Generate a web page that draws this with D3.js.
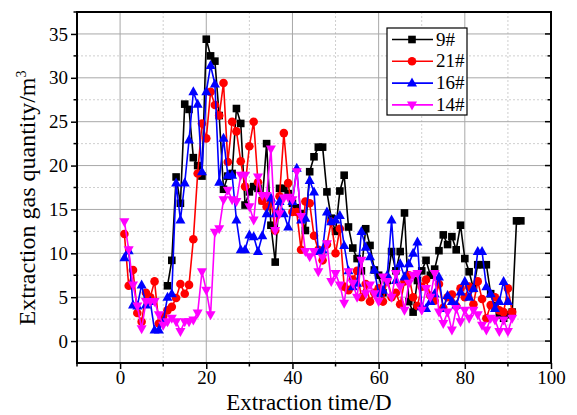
<!DOCTYPE html>
<html>
<head>
<meta charset="utf-8">
<script src="https://cdn.jsdelivr.net/npm/d3@7"></script>
<style>
  body { margin: 0; background: #fff; }
  text { font-family: "Liberation Serif", "Times New Roman", serif; }
</style>
</head>
<body>
<script>
// Series values, one per day
const start9 = 11;
const vals9 = [6.3, 9.2, 18.7, 15.7, 27.0, 26.4, 20.9, 20.0, 18.8, 34.4,
  32.5, 31.9, 25.7, 17.3, 18.8, 19.1, 26.5, 24.8, 15.5, 17.0,
  17.6, 17.4, 16.0, 22.5, 13.2, 9.0, 17.4, 17.4, 16.8, 15.7,
  15.2, 14.5, 12.6, 19.3, 21.0, 22.1, 22.1, 17.0, 14.0, 12.5,
  17.1, 18.9, 13.0, 10.6, 9.4, 8.0, 12.8, 10.9, 8.1, 7.5,
  5.5, 6.9, 10.2, 8.0, 10.2, 14.6, 4.5, 3.3, 6.9, 8.0,
  9.2, 7.5, 8.2, 10.3, 12.1, 11.0, 11.9, 10.4, 13.2, 9.4,
  7.9, 6.0, 8.7, 8.7, 8.7, 5.4, 4.0, 3.0, 2.6, 3.0,
  3.3, 13.7, 13.7];

const start21 = 1;
const vals21 = [12.2, 6.3, 8.1, 3.2, 2.2, 5.5, 5.0, 6.8, 2.0, 2.8,
  3.5, 3.9, 4.9, 6.5, 5.4, 6.4, 11.6, 19.1, 24.8, 23.1,
  28.4, 26.9, 25.7, 29.4, 20.4, 25.0, 23.9, 20.5, 17.6, 22.2,
  25.0, 18.1, 16.0, 15.3, 16.0, 12.6, 16.5, 23.7, 18.0, 14.7,
  14.7, 10.4, 15.9, 15.7, 12.0, 10.4, 9.2, 11.0, 13.6, 10.0,
  12.8, 6.2, 5.8, 7.0, 8.0, 5.0, 6.5, 4.5, 5.5, 6.0,
  4.5, 7.2, 5.0, 5.5, 4.2, 6.8, 7.5, 5.0, 4.0, 6.2,
  7.0, 5.2, 4.6, 6.5, 3.8, 5.0, 5.3, 4.0, 6.0, 5.0,
  6.2, 4.2, 6.8, 4.8, 2.6, 4.1, 5.0, 3.5, 3.3, 6.0,
  3.3];

const start16 = 1;
const vals16 = [9.5, 10.3, 4.1, 4.0, 6.4, 4.1, 4.5, 1.25, 1.25, 2.2,
  5.0, 5.4, 18.0, 13.8, 18.0, 22.9, 28.4, 27.0, 19.3, 28.4,
  31.4, 29.3, 18.1, 23.1, 18.9, 18.9, 13.8, 10.4, 10.4, 12.1,
  11.9, 10.2, 12.0, 14.5, 16.3, 14.5, 15.9, 14.5, 13.0, 15.9,
  19.7, 13.8, 14.0, 18.3, 17.0, 10.2, 10.4, 14.7, 13.6, 13.8,
  14.3, 10.9, 8.0, 6.2, 6.6, 12.5, 10.7, 9.6, 8.1, 5.4,
  5.8, 7.5, 13.8, 6.9, 8.8, 7.3, 8.8, 10.0, 11.3, 3.9,
  3.7, 4.5, 5.4, 7.3, 3.7, 5.2, 4.5, 4.1, 5.6, 6.8,
  5.0, 6.0, 10.2, 10.2, 6.2, 5.4, 3.7, 4.5, 6.8, 4.5];

const start14 = 1;
const vals14 = [13.6, 10.4, 6.4, 4.0, 1.4, 4.5, 4.5, 4.5, 3.0, 1.8,
  2.2, 2.6, 2.2, 1.1, 2.2, 2.2, 2.4, 3.2, 7.9, 5.8,
  3.0, 12.4, 12.8, 16.1, 17.2, 16.1, 15.9, 18.9, 18.9, 15.3,
  13.8, 18.7, 16.6, 16.6, 21.9, 12.6, 14.5, 16.3, 16.4, 16.1,
  19.3, 14.2, 10.2, 9.6, 10.2, 7.9, 9.5, 11.1, 6.8, 7.7,
  6.4, 4.3, 7.9, 6.6, 5.0, 9.2, 5.4, 6.4, 5.4, 4.5,
  7.3, 6.8, 5.0, 7.7, 6.2, 3.5, 6.6, 7.5, 7.7, 3.5,
  6.0, 5.0, 7.7, 3.3, 2.0, 3.3, 1.25, 3.7, 2.2, 3.5,
  2.6, 3.5, 3.0, 1.8, 1.25, 2.6, 2.4, 1.1, 2.4, 1.1,
  2.6];

const seriesNames = ["9#", "21#", "16#", "14#"];
const seriesColors = ["#000000", "#ff0000", "#0000ff", "#ff00ff"];
const seriesSymbols = ["square", "circle", "triangleUp", "triangleDown"];
const seriesStarts = [start9, start21, start16, start14];
const seriesVals = [vals9, vals21, vals16, vals14];

const xTicks = [0, 20, 40, 60, 80, 100];
const yTicks = [0, 5, 10, 15, 20, 25, 30, 35];

const W = 577, H = 415;
const m = { left: 77, right: 26, top: 12, bottom: 52 };
const serif = "'Liberation Serif', 'Times New Roman', serif";

const svg = d3.select("body").append("svg")
  .attr("width", W).attr("height", H);

const x = d3.scaleLinear().domain([-10, 100]).range([m.left, W - m.right]);
const y = d3.scaleLinear().domain([-2.5, 37.5]).range([H - m.bottom, m.top]);

// grid: minor dashed, major solid
const minorX = d3.range(-10, 101, 10).filter(v => v % 20 !== 0);
const minorY = d3.range(-2.5, 37.6, 5);
const grid = svg.append("g");
grid.selectAll(".mx").data(minorX).enter().append("line")
  .attr("x1", d => x(d)).attr("x2", d => x(d))
  .attr("y1", y(37.5)).attr("y2", y(-2.5))
  .attr("stroke", "#cfcfcf").attr("stroke-dasharray", "2,2");
grid.selectAll(".my").data(minorY).enter().append("line")
  .attr("y1", d => y(d)).attr("y2", d => y(d))
  .attr("x1", x(-10)).attr("x2", x(100))
  .attr("stroke", "#cfcfcf").attr("stroke-dasharray", "2,2");
grid.selectAll(".Mx").data(xTicks).enter().append("line")
  .attr("x1", d => x(d)).attr("x2", d => x(d))
  .attr("y1", y(37.5)).attr("y2", y(-2.5))
  .attr("stroke", "#a8a8a8");
grid.selectAll(".My").data(yTicks).enter().append("line")
  .attr("y1", d => y(d)).attr("y2", d => y(d))
  .attr("x1", x(-10)).attr("x2", x(100))
  .attr("stroke", "#a8a8a8");

// axes
const xAxis = d3.axisBottom(x).tickValues(xTicks).tickSize(6).tickPadding(2);
const yAxis = d3.axisLeft(y).tickValues(yTicks).tickSize(6).tickPadding(3);

const gx = svg.append("g").attr("transform", `translate(0,${y(-2.5)})`).call(xAxis);
const gy = svg.append("g").attr("transform", `translate(${x(-10)},0)`).call(yAxis);
[gx, gy].forEach(g => {
  g.attr("font-family", serif).attr("font-size", 19);
  g.select(".domain").remove();
  g.selectAll("line").attr("stroke", "#000").attr("stroke-width", 1.5);
  g.selectAll("text").attr("fill", "#000").attr("font-family", serif);
});

// minor ticks outside
svg.append("g").selectAll("line").data(minorX).enter().append("line")
  .attr("x1", d => x(d)).attr("x2", d => x(d))
  .attr("y1", y(-2.5)).attr("y2", y(-2.5) + 3.5)
  .attr("stroke", "#000").attr("stroke-width", 1.5);
svg.append("g").selectAll("line").data(minorY.slice(1)).enter().append("line")
  .attr("y1", d => y(d)).attr("y2", d => y(d))
  .attr("x1", x(-10)).attr("x2", x(-10) - 3.5)
  .attr("stroke", "#000").attr("stroke-width", 1.5);
// right side ticks inside
svg.append("g").selectAll("line").data(yTicks).enter().append("line")
  .attr("y1", d => y(d)).attr("y2", d => y(d))
  .attr("x1", x(100)).attr("x2", x(100) - 6)
  .attr("stroke", "#000").attr("stroke-width", 1.5);
svg.append("g").selectAll("line").data(minorY.slice(1)).enter().append("line")
  .attr("y1", d => y(d)).attr("y2", d => y(d))
  .attr("x1", x(100)).attr("x2", x(100) - 3.5)
  .attr("stroke", "#000").attr("stroke-width", 1.5);

// frame
svg.append("rect")
  .attr("x", x(-10)).attr("y", y(37.5))
  .attr("width", x(100) - x(-10)).attr("height", y(-2.5) - y(37.5))
  .attr("fill", "none").attr("stroke", "#000").attr("stroke-width", 2);

// marker shapes
function marker(sel, kind, color) {
  if (kind === "square") {
    sel.append("rect").attr("x", -3.8).attr("y", -3.8).attr("width", 7.6).attr("height", 7.6).attr("fill", color);
  } else if (kind === "circle") {
    sel.append("circle").attr("r", 4.3).attr("fill", color);
  } else if (kind === "triangleUp") {
    sel.append("path").attr("d", "M0,-5.5L5,3.5L-5,3.5Z").attr("fill", color);
  } else {
    sel.append("path").attr("d", "M0,5.5L5,-3.5L-5,-3.5Z").attr("fill", color);
  }
}

const line = d3.line().x(d => x(d[0])).y(d => y(d[1]));

seriesVals.forEach((vals, i) => {
  const pts = vals.map((v, k) => [seriesStarts[i] + k, v]);
  const g = svg.append("g");
  g.append("path").datum(pts).attr("d", line)
    .attr("fill", "none").attr("stroke", seriesColors[i]).attr("stroke-width", 1.6);
  g.selectAll("g").data(pts).enter().append("g")
    .attr("transform", d => `translate(${x(d[0])},${y(d[1])})`)
    .each(function () { marker(d3.select(this), seriesSymbols[i], seriesColors[i]); });
});

// legend
const lg = svg.append("g");
lg.append("rect").attr("x", 387).attr("y", 28).attr("width", 80).attr("height", 87)
  .attr("fill", "#fff").attr("stroke", "#000").attr("stroke-width", 1.2);
seriesNames.forEach((name, i) => {
  const ly = 39.5 + i * 21.8;
  lg.append("line").attr("x1", 392).attr("x2", 433).attr("y1", ly).attr("y2", ly)
    .attr("stroke", seriesColors[i]).attr("stroke-width", 1.6);
  const mg = lg.append("g").attr("transform", `translate(412,${ly})`);
  marker(mg, seriesSymbols[i], seriesColors[i]);
  lg.append("text").attr("x", 436).attr("y", ly + 6).attr("font-size", 19).text(name);
});

// axis titles
svg.append("text").attr("x", 309).attr("y", 410).attr("text-anchor", "middle")
  .attr("font-size", 23).text("Extraction time/D");
const yl = svg.append("text").attr("transform", "translate(35,198) rotate(-90)")
  .attr("text-anchor", "middle").attr("font-size", 24);
yl.append("tspan").text("Extraction gas quantity/m");
yl.append("tspan").attr("dy", -9).attr("font-size", 14).text("3");
</script>
</body>
</html>
